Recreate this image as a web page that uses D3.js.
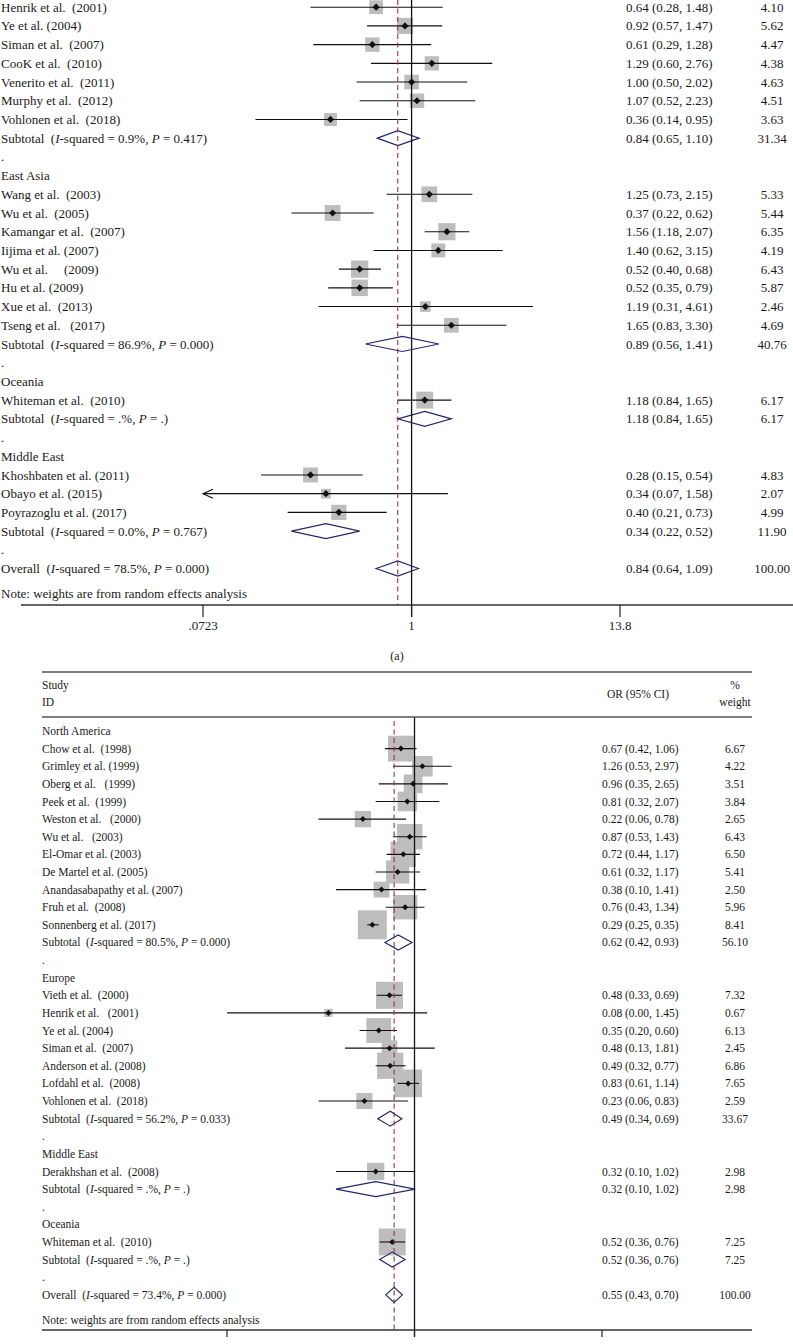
<!DOCTYPE html>
<html><head><meta charset="utf-8">
<script src="https://cdn.jsdelivr.net/npm/d3@7/dist/d3.min.js"></script>
<style>
html,body{margin:0;padding:0;background:#fff;}
svg{display:block;}
text{font-family:"Liberation Serif","Times New Roman",serif;fill:#1a1a1a;white-space:pre;}
</style></head>
<body>
<script>
// ---------- Panel (a) data (top group "Europe" header is cropped off) ----------
const aGroups = ["", "East Asia", "Oceania", "Middle East"];
const aStudies = ["Henrik et al.  (2001)","Ye et al. (2004)","Siman et al.  (2007)","CooK et al.  (2010)","Venerito et al.  (2011)","Murphy et al.  (2012)","Vohlonen et al.  (2018)",
  "Wang et al.  (2003)","Wu et al.  (2005)","Kamangar et al.  (2007)","Iijima et al. (2007)","Wu et al.     (2009)","Hu et al. (2009)","Xue et al.  (2013)","Tseng et al.   (2017)",
  "Whiteman et al.  (2010)",
  "Khoshbaten et al. (2011)","Obayo et al. (2015)","Poyrazoglu et al. (2017)"];
const aGroupOf = [0,0,0,0,0,0,0, 1,1,1,1,1,1,1,1, 2, 3,3,3];
const aOR = [0.64,0.92,0.61,1.29,1.00,1.07,0.36, 1.25,0.37,1.56,1.40,0.52,0.52,1.19,1.65, 1.18, 0.28,0.34,0.40];
const aLo = [0.28,0.57,0.29,0.60,0.50,0.52,0.14, 0.73,0.22,1.18,0.62,0.40,0.35,0.31,0.83, 0.84, 0.15,0.07,0.21];
const aHi = [1.48,1.47,1.28,2.76,2.02,2.23,0.95, 2.15,0.62,2.07,3.15,0.68,0.79,4.61,3.30, 1.65, 0.54,1.58,0.73];
const aWt = [4.10,5.62,4.47,4.38,4.63,4.51,3.63, 5.33,5.44,6.35,4.19,6.43,5.87,2.46,4.69, 6.17, 4.83,2.07,4.99];
const aSubI = ["0.9%","86.9%",".%","0.0%"];
const aSubP = ["0.417","0.000",".","0.767"];
const aSubOR = [0.84,0.89,1.18,0.34];
const aSubLo = [0.65,0.56,0.84,0.22];
const aSubHi = [1.10,1.41,1.65,0.52];
const aSubWt = [31.34,40.76,6.17,11.90];
const aOverall = {I:"78.5%", P:"0.000", or:0.84, lo:0.64, hi:1.09, wt:100.00};
const aTicks = [0.0723, 1, 13.8];
const aTickLabels = [".0723","1","13.8"];

// ---------- Panel (b) data ----------
const bGroups = ["North America","Europe","Middle East","Oceania"];
const bStudies = ["Chow et al.  (1998)","Grimley et al. (1999)","Oberg et al.   (1999)","Peek et al.  (1999)","Weston et al.   (2000)","Wu et al.   (2003)","El-Omar et al. (2003)","De Martel et al. (2005)","Anandasabapathy et al. (2007)","Fruh et al.  (2008)","Sonnenberg et al. (2017)",
  "Vieth et al.  (2000)","Henrik et al.   (2001)","Ye et al. (2004)","Siman et al.  (2007)","Anderson et al. (2008)","Lofdahl et al.  (2008)","Vohlonen et al.  (2018)",
  "Derakhshan et al.  (2008)",
  "Whiteman et al.  (2010)"];
const bGroupOf = [0,0,0,0,0,0,0,0,0,0,0, 1,1,1,1,1,1,1, 2, 3];
const bOR = [0.67,1.26,0.96,0.81,0.22,0.87,0.72,0.61,0.38,0.76,0.29, 0.48,0.08,0.35,0.48,0.49,0.83,0.23, 0.32, 0.52];
const bLo = [0.42,0.53,0.35,0.32,0.06,0.53,0.44,0.32,0.10,0.43,0.25, 0.33,0.0041,0.20,0.13,0.32,0.61,0.06, 0.10, 0.36];
const bHi = [1.06,2.97,2.65,2.07,0.78,1.43,1.17,1.17,1.41,1.34,0.35, 0.69,1.45,0.60,1.81,0.77,1.14,0.83, 1.02, 0.76];
const bWt = [6.67,4.22,3.51,3.84,2.65,6.43,6.50,5.41,2.50,5.96,8.41, 7.32,0.67,6.13,2.45,6.86,7.65,2.59, 2.98, 7.25];
const bSubI = ["80.5%","56.2%",".%",".%"];
const bSubP = ["0.000","0.033",".","."];
const bSubOR = [0.62,0.49,0.32,0.52];
const bSubLo = [0.42,0.34,0.10,0.36];
const bSubHi = [0.93,0.69,1.02,0.76];
const bSubWt = [56.10,33.67,2.98,7.25];
const bOverall = {I:"73.4%", P:"0.000", or:0.55, lo:0.43, hi:0.70, wt:100.00};
const bTicks = [0.00408, 1, 245];

const W = 793, H = 1344;
const f2 = d3.format(".2f");
const svg = d3.select("body").append("svg").attr("width", W).attr("height", H);

function buildRows(groups, studies, groupOf, OR, LO, HI, WT, subI, subP, subOR, subLO, subHI, subWT, overall){
  const rows = [];
  groups.forEach((g, gi) => {
    if (g) rows.push({type:"header", label:g});
    studies.forEach((s, i) => { if (groupOf[i] === gi) rows.push({type:"study", label:s, or:OR[i], lo:LO[i], hi:HI[i], wt:WT[i]}); });
    rows.push({type:"sub", prefix:"Subtotal", I:subI[gi], P:subP[gi], or:subOR[gi], lo:subLO[gi], hi:subHI[gi], wt:subWT[gi]});
    rows.push({type:"dot", label:"."});
  });
  rows.push({type:"sub", prefix:"Overall", I:overall.I, P:overall.P, or:overall.or, lo:overall.lo, hi:overall.hi, wt:overall.wt});
  return rows;
}

function drawPanel(cfg, rows){
  const g = svg.append("g");
  const x = d3.scaleLog().domain(cfg.domain).range(cfg.range);
  const y = i => cfg.y0 + cfg.step * i;
  const [dmin, dmax] = cfg.domain;

  rows.forEach((r, i) => {
    if (r.type !== "study") return;
    const s = cfg.boxK * Math.sqrt(r.wt);
    g.append("rect").attr("x", x(r.or) - s/2).attr("y", y(i) - s/2).attr("width", s).attr("height", s).attr("fill", "#bdbdbd");
  });
  rows.forEach((r, i) => {
    if (r.type !== "study") return;
    const yy = y(i);
    const x1 = x(Math.max(r.lo, dmin)), x2 = x(Math.min(r.hi, dmax));
    g.append("line").attr("x1", x1).attr("x2", x2).attr("y1", yy).attr("y2", yy).attr("stroke", "#111").attr("stroke-width", 1.1);
    if (r.lo < dmin) {
      g.append("path").attr("d", `M${x1+10},${yy-4.5}L${x1},${yy}L${x1+10},${yy+4.5}`).attr("fill","none").attr("stroke","#111").attr("stroke-width",1.1);
    }
    if (r.hi > dmax) {
      g.append("path").attr("d", `M${x2-10},${yy-4.5}L${x2},${yy}L${x2-10},${yy+4.5}`).attr("fill","none").attr("stroke","#111").attr("stroke-width",1.1);
    }
    const d = cfg.dot;
    g.append("path").attr("d", `M${x(r.or)-d},${yy}L${x(r.or)},${yy-d}L${x(r.or)+d},${yy}L${x(r.or)},${yy+d}Z`).attr("fill", "#111");
  });
  rows.forEach((r, i) => {
    if (r.type !== "sub") return;
    const yy = y(i), h = cfg.diamH / 2;
    g.append("path").attr("d", `M${x(r.lo)},${yy}L${x(r.or)},${yy-h}L${x(r.hi)},${yy}L${x(r.or)},${yy+h}Z`)
      .attr("fill", "none").attr("stroke", "#25276b").attr("stroke-width", 1.2);
  });
  g.append("line").attr("x1", x(1)).attr("x2", x(1)).attr("y1", cfg.nullTop).attr("y2", cfg.axisY + cfg.tickLen).attr("stroke", "#111").attr("stroke-width", 1.3);
  const ov = rows[rows.length - 1];
  g.append("line").attr("x1", x(ov.or)).attr("x2", x(ov.or)).attr("y1", cfg.dashTop).attr("y2", cfg.axisY)
    .attr("stroke", "#9c2e4a").attr("stroke-width", 1.1).attr("stroke-dasharray", "5,3.5");
  g.append("line").attr("x1", cfg.axisX[0]).attr("x2", cfg.axisX[1]).attr("y1", cfg.axisY).attr("y2", cfg.axisY).attr("stroke", "#333").attr("stroke-width", 1.3);
  cfg.ticks.forEach((t, k) => {
    g.append("line").attr("x1", x(t)).attr("x2", x(t)).attr("y1", cfg.axisY).attr("y2", cfg.axisY + cfg.tickLen).attr("stroke", "#222").attr("stroke-width", 1.2);
    if (cfg.tickLabels) g.append("text").attr("x", x(t)).attr("y", cfg.tickLabelY).attr("text-anchor", "middle").attr("font-size", cfg.fs).text(cfg.tickLabels[k]);
  });

  rows.forEach((r, i) => {
    const yy = y(i);
    const t = g.append("text").attr("x", cfg.textX).attr("y", yy).attr("dy", "0.35em").attr("font-size", cfg.fs);
    if (r.type === "sub") {
      t.append("tspan").text(r.prefix + "  (");
      t.append("tspan").attr("font-style", "italic").text("I");
      t.append("tspan").text("-squared = " + r.I + ", ");
      t.append("tspan").attr("font-style", "italic").text("P");
      t.append("tspan").text(" = " + r.P + ")");
    } else {
      t.text(r.label);
    }
    if (r.type === "study" || r.type === "sub") {
      g.append("text").attr("x", cfg.orX).attr("y", yy).attr("dy", "0.35em").attr("font-size", cfg.fs)
        .text(`${f2(r.or)} (${f2(r.lo)}, ${f2(r.hi)})`);
      g.append("text").attr("x", cfg.wX).attr("y", yy).attr("dy", "0.35em").attr("font-size", cfg.fs).attr("text-anchor", "middle")
        .text(f2(r.wt));
    }
  });
  g.append("text").attr("x", cfg.textX).attr("y", cfg.noteY).attr("dy", "0.35em").attr("font-size", cfg.fs)
    .text("Note: weights are from random effects analysis");
  return g;
}

// Panel (a)
const rowsA = buildRows(aGroups, aStudies, aGroupOf, aOR, aLo, aHi, aWt, aSubI, aSubP, aSubOR, aSubLo, aSubHi, aSubWt, aOverall);
drawPanel({domain:[aTicks[0], aTicks[2]], range:[203, 620], y0:7.2, step:18.71, textX:1, orX:626, wX:772, fs:13,
  boxK:6.8, dot:3.6, diamH:15, nullTop:0, dashTop:0, axisY:605, tickLen:12, axisX:[21, 793],
  ticks:aTicks, tickLabels:aTickLabels, tickLabelY:630, noteY:593}, rowsA);
svg.append("text").attr("x", 397).attr("y", 656).attr("dy", "0.35em").attr("text-anchor", "middle").attr("font-size", 12).text("(a)");

// Panel (b)
const rowsB = buildRows(bGroups, bStudies, bGroupOf, bOR, bLo, bHi, bWt, bSubI, bSubP, bSubOR, bSubLo, bSubHi, bSubWt, bOverall);
drawPanel({domain:[bTicks[0], bTicks[2]], range:[227, 602], y0:731, step:17.62, textX:42, orX:602, wX:735, fs:11.5,
  boxK:10, dot:3, diamH:15, nullTop:717, dashTop:721, axisY:1330, tickLen:7, axisX:[42, 752],
  ticks:bTicks, tickLabels:null, noteY:1320}, rowsB);
[672, 717].forEach(yy => svg.append("line").attr("x1", 42).attr("x2", 752).attr("y1", yy).attr("y2", yy).attr("stroke", "#555").attr("stroke-width", 1.6));
const hdr = [["Study", 42, 685, "start"], ["ID", 42, 702, "start"], ["OR (95% CI)", 638, 694, "middle"], ["%", 735, 685, "middle"], ["weight", 735, 702, "middle"]];
hdr.forEach(([t, xx, yy, a]) => svg.append("text").attr("x", xx).attr("y", yy).attr("dy", "0.35em").attr("font-size", 11.5).attr("text-anchor", a).text(t));
</script>
</body></html>
